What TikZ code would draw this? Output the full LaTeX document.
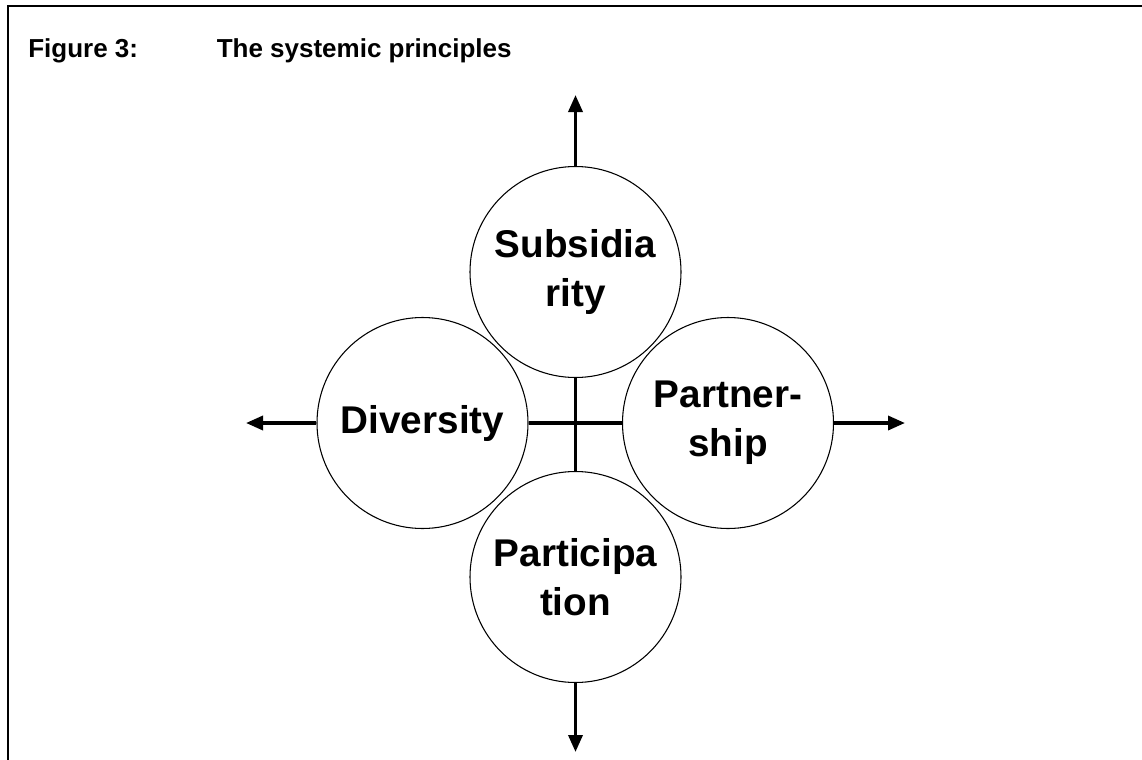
\documentclass[tikz,border=0pt]{standalone}
\usepackage{fontspec}
\setmainfont{Liberation Sans}
\usetikzlibrary{arrows.meta}
\begin{document}
\begin{tikzpicture}[x=0.75pt,y=-0.75pt,
  principle/.style={circle,draw=black,line width=0.8pt,fill=white,inner sep=0pt,
    minimum size=158.25pt,align=center,
    font=\fontsize{29pt}{36.75pt}\selectfont\bfseries},
  axis/.style={line width=2.6pt},
  outarrow/.style={line width=2.6pt,-{Triangle[length=12.75pt,width=10.5pt]}},
  frameline/.style={line width=1.8pt,line cap=rect},
  titletext/.style={anchor=base west,inner sep=0pt,font=\fontsize{19.5pt}{23pt}\selectfont\bfseries}
]
\useasboundingbox (0,0) rectangle (1142,760);
\fill[white] (0,0) rectangle (1142,760);
% frame
\coordinate (fbl) at (8,765);
\coordinate (ftl) at (8,6);
\coordinate (ftr) at (1147,6);
\draw[frameline] (fbl) -- (ftl) -- (ftr);
% title
\node[titletext] (figlabel) at (28,57) {Figure 3:};
\node[titletext] (figtitle) at (216.5,57) {The systemic principles};
% circles
\node[principle] (sub) at (575.5,272) {Subsidia\\rity};
\node[principle] (div) at (422.5,423) {Diversity};
\node[principle] (par) at (728,423) {Partner-\\ship};
\node[principle] (part) at (575.5,577) {Participa\\tion};
% cross in the middle
\draw[axis] (sub.south) -- (part.north);
\draw[axis] (div.east) -- (par.west);
% outward arrows
\coordinate (tup) at (575.5,95);
\coordinate (tdown) at (575.5,752);
\coordinate (tleft) at (246,423);
\coordinate (tright) at (905,423);
\draw[outarrow] (sub.north) -- (tup);
\draw[outarrow] (part.south) -- (tdown);
\draw[outarrow] (div.west) -- (tleft);
\draw[outarrow] (par.east) -- (tright);
\end{tikzpicture}
\end{document}
